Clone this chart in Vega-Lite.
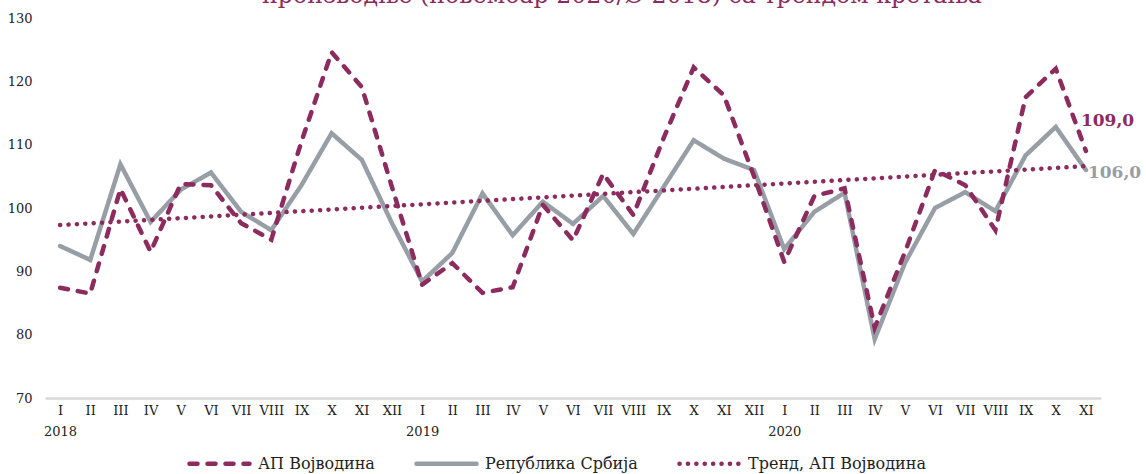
{
  "$schema": "https://vega.github.io/schema/vega-lite/v6.json",
  "autosize": "none",
  "width": 1056,
  "height": 380,
  "padding": {"left": 45, "top": 18, "right": 45, "bottom": 76},
  "background": "white",
  "title": {
    "text": "производње (новембар 2020/Ø 2018) са трендом кретања",
    "font": "DejaVu Serif",
    "fontSize": 23.7,
    "fontWeight": "normal",
    "color": "#8B2B5E",
    "anchor": "middle",
    "dx": 49,
    "baseline": "alphabetic",
    "offset": -15
  },
  "data": {
    "values": [
      {"k": "2018 01 I", "АП Војводина": 87.4, "Република Србија": 94.0, "Тренд, АП Војводина": 97.30},
      {"k": "2018 02 II", "АП Војводина": 86.5, "Република Србија": 91.8, "Тренд, АП Војводина": 97.57},
      {"k": "2018 03 III", "АП Војводина": 103.0, "Република Србија": 106.9, "Тренд, АП Војводина": 97.85},
      {"k": "2018 04 IV", "АП Војводина": 93.1, "Република Србија": 97.8, "Тренд, АП Војводина": 98.12},
      {"k": "2018 05 V", "АП Војводина": 103.8, "Република Србија": 102.9, "Тренд, АП Војводина": 98.39},
      {"k": "2018 06 VI", "АП Војводина": 103.6, "Република Србија": 105.6, "Тренд, АП Војводина": 98.67},
      {"k": "2018 07 VII", "АП Војводина": 97.6, "Република Србија": 99.4, "Тренд, АП Војводина": 98.94},
      {"k": "2018 08 VIII", "АП Војводина": 95.0, "Република Србија": 96.5, "Тренд, АП Војводина": 99.21},
      {"k": "2018 09 IX", "АП Војводина": 110.5, "Република Србија": 103.6, "Тренд, АП Војводина": 99.49},
      {"k": "2018 10 X", "АП Војводина": 124.6, "Република Србија": 111.8, "Тренд, АП Војводина": 99.76},
      {"k": "2018 11 XI", "АП Војводина": 119.1, "Република Србија": 107.6, "Тренд, АП Војводина": 100.04},
      {"k": "2018 12 XII", "АП Војводина": 103.3, "Република Србија": 97.6, "Тренд, АП Војводина": 100.31},
      {"k": "2019 01 I", "АП Војводина": 87.9, "Република Србија": 88.4, "Тренд, АП Војводина": 100.58},
      {"k": "2019 02 II", "АП Војводина": 91.3, "Република Србија": 92.9, "Тренд, АП Војводина": 100.86},
      {"k": "2019 03 III", "АП Војводина": 86.6, "Република Србија": 102.3, "Тренд, АП Војводина": 101.13},
      {"k": "2019 04 IV", "АП Војводина": 87.5, "Република Србија": 95.7, "Тренд, АП Војводина": 101.40},
      {"k": "2019 05 V", "АП Војводина": 100.5, "Република Србија": 101.0, "Тренд, АП Војводина": 101.68},
      {"k": "2019 06 VI", "АП Војводина": 94.9, "Република Србија": 97.5, "Тренд, АП Војводина": 101.95},
      {"k": "2019 07 VII", "АП Војводина": 105.4, "Република Србија": 101.9, "Тренд, АП Војводина": 102.22},
      {"k": "2019 08 VIII", "АП Војводина": 98.9, "Република Србија": 95.9, "Тренд, АП Војводина": 102.50},
      {"k": "2019 09 IX", "АП Војводина": 111.0, "Република Србија": 103.3, "Тренд, АП Војводина": 102.77},
      {"k": "2019 10 X", "АП Војводина": 122.2, "Република Србија": 110.7, "Тренд, АП Војводина": 103.04},
      {"k": "2019 11 XI", "АП Војводина": 117.8, "Република Србија": 107.8, "Тренд, АП Војводина": 103.32},
      {"k": "2019 12 XII", "АП Војводина": 105.0, "Република Србија": 106.0, "Тренд, АП Војводина": 103.59},
      {"k": "2020 01 I", "АП Војводина": 91.5, "Република Србија": 93.5, "Тренд, АП Војводина": 103.86},
      {"k": "2020 02 II", "АП Војводина": 101.9, "Република Србија": 99.4, "Тренд, АП Војводина": 104.14},
      {"k": "2020 03 III", "АП Војводина": 103.1, "Република Србија": 102.4, "Тренд, АП Војводина": 104.41},
      {"k": "2020 04 IV", "АП Војводина": 81.1, "Република Србија": 79.3, "Тренд, АП Војводина": 104.68},
      {"k": "2020 05 V", "АП Војводина": 93.0, "Република Србија": 91.3, "Тренд, АП Војводина": 104.96},
      {"k": "2020 06 VI", "АП Војводина": 106.0, "Република Србија": 100.0, "Тренд, АП Војводина": 105.23},
      {"k": "2020 07 VII", "АП Војводина": 103.6, "Република Србија": 102.5, "Тренд, АП Војводина": 105.51},
      {"k": "2020 08 VIII", "АП Војводина": 96.5, "Република Србија": 99.5, "Тренд, АП Војводина": 105.78},
      {"k": "2020 09 IX", "АП Војводина": 117.5, "Република Србија": 108.3, "Тренд, АП Војводина": 106.05},
      {"k": "2020 10 X", "АП Војводина": 122.0, "Република Србија": 112.8, "Тренд, АП Војводина": 106.33},
      {"k": "2020 11 XI", "АП Војводина": 109.0, "Република Србија": 106.0, "Тренд, АП Војводина": 106.60}
    ]
  },
  "transform": [
    {"fold": ["Република Србија", "АП Војводина", "Тренд, АП Војводина"], "as": ["s", "v"]}
  ],
  "encoding": {
    "x": {
      "field": "k",
      "type": "ordinal",
      "sort": "ascending",
      "scale": {"padding": 0.5},
      "axis": {
        "title": null,
        "ticks": false,
        "domainColor": "#d9d9d9",
        "domainWidth": 2.5,
        "labelAngle": 0,
        "labelFont": "DejaVu Serif",
        "labelFontSize": 13,
        "labelColor": "#222222",
        "labelPadding": 6,
        "labelLineHeight": 21,
        "labelBaseline": "top",
        "labelExpr": "split(datum.label, ' ')[1] == '01' ? [split(datum.label, ' ')[2], split(datum.label, ' ')[0]] : split(datum.label, ' ')[2]"
      }
    },
    "y": {
      "field": "v",
      "type": "quantitative",
      "scale": {"domain": [70, 130], "nice": false, "zero": false},
      "axis": {
        "title": null,
        "values": [70, 80, 90, 100, 110, 120, 130],
        "grid": false,
        "domain": false,
        "ticks": false,
        "labelFont": "DejaVu Serif",
        "labelFontSize": 13,
        "labelColor": "#222222",
        "labelPadding": 13
      }
    }
  },
  "layer": [
    {
      "mark": {"type": "line", "strokeCap": "round", "strokeJoin": "miter"},
      "encoding": {
        "color": {
          "field": "s",
          "type": "nominal",
          "scale": {
            "domain": ["АП Војводина", "Република Србија", "Тренд, АП Војводина"],
            "range": ["#8B2B5E", "#979EA5", "#8B2B5E"]
          },
          "legend": {
            "title": null,
            "orient": "none",
            "legendX": 142,
            "legendY": 413,
            "direction": "horizontal",
            "symbolType": "stroke",
            "symbolSize": 3600,
            "symbolStrokeWidth": 4.5,
            "labelFont": "DejaVu Serif",
            "labelFontSize": 16,
            "labelColor": "#222222",
            "labelOffset": 6,
            "labelLimit": 400,
            "columnPadding": 32,
            "encode": {"symbols": {"update": {"strokeCap": {"value": "round"}}}}
          }
        },
        "strokeDash": {
          "field": "s",
          "type": "nominal",
          "scale": {
            "domain": ["АП Војводина", "Република Србија", "Тренд, АП Војводина"],
            "range": [[8, 10], [1, 0], [0.1, 8.3]]
          },
          "legend": null
        },
        "strokeWidth": {
          "field": "s",
          "type": "nominal",
          "scale": {
            "domain": ["АП Војводина", "Република Србија", "Тренд, АП Војводина"],
            "range": [4.5, 4.5, 3.5]
          },
          "legend": null
        }
      }
    },
    {
      "transform": [{"filter": "datum.k == '2020 11 XI' && datum.s == 'АП Војводина'"}],
      "mark": {"type": "text", "align": "left", "baseline": "middle", "dx": -5, "dy": -30, "font": "DejaVu Serif", "fontSize": 17, "fontWeight": "bold", "color": "#8B2B5E"},
      "encoding": {"text": {"field": "v", "type": "quantitative", "format": ".1f"}}
    },
    {
      "transform": [{"filter": "datum.k == '2020 11 XI' && datum.s == 'Република Србија'"}],
      "mark": {"type": "text", "align": "left", "baseline": "middle", "dx": 2, "dy": 3, "font": "DejaVu Serif", "fontSize": 17, "fontWeight": "bold", "color": "#979EA5"},
      "encoding": {"text": {"field": "v", "type": "quantitative", "format": ".1f"}}
    }
  ],
  "config": {
    "view": {"stroke": null},
    "locale": {"number": {"decimal": ",", "thousands": ".", "grouping": [3], "currency": ["", " дин."]}}
  }
}
